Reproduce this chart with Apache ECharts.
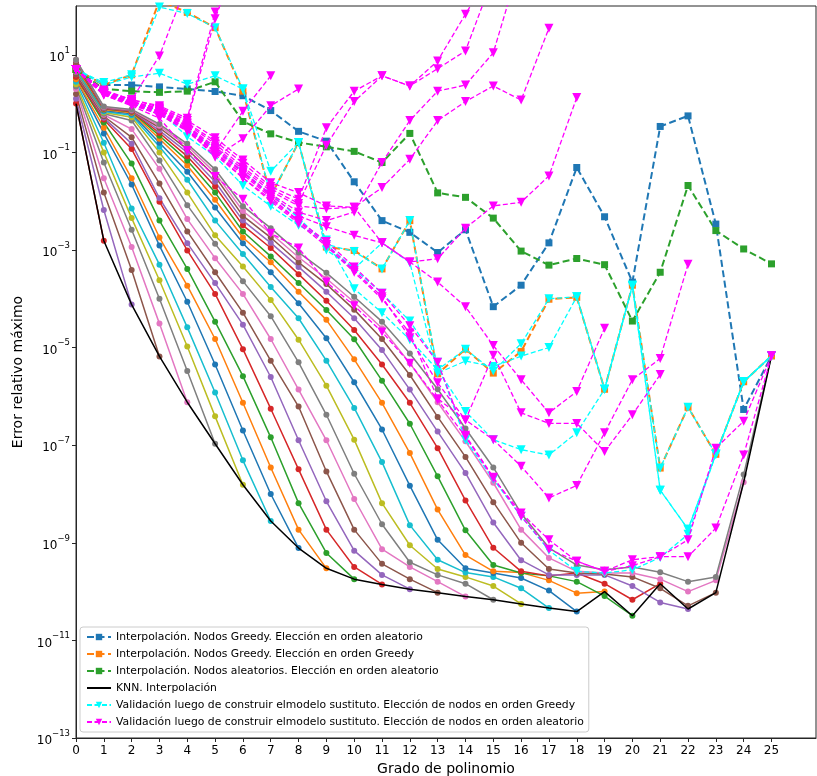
<!DOCTYPE html>
<html>
<head>
<meta charset="utf-8">
<script src="https://cdn.jsdelivr.net/npm/echarts@6/dist/echarts.min.js"></script>
<style>
  html, body { margin: 0; padding: 0; background: #fff; }
  #chart { width: 817px; height: 776px; }
</style>
</head>
<body>
<div id="chart"></div>
<script>
// Polynomial degree on the x axis
const degrees = [0, 1, 2, 3, 4, 5, 6, 7, 8, 9, 10, 11, 12, 13, 14, 15, 16, 17, 18, 19, 20, 21, 22, 23, 24, 25];

// Log-axis tick positions (every other decade is labelled)
const yTicks = [1e-13, 1e-11, 1e-9, 1e-7, 1e-5, 1e-3, 1e-1, 1e1];

// Interpolation runs
const interpGreedyRand = [5.0, 2.4, 2.4, 2.2, 2.0, 1.77, 1.45, 0.72, 0.27, 0.17, 0.025, 4.0e-3, 2.3e-3, 8.9e-4, 2.6e-3, 6.9e-5, 1.9e-4, 1.4e-3, 4.9e-2, 4.8e-3, 2.2e-4, 0.34, 0.56, 3.4e-3, 5.4e-7, 6.8e-6];
const interpGreedyGreedy = [5.0, 2.4, 3.9, 130, 74, 36, 1.8, 0.0126, 0.16, 1.15e-3, 9.8e-4, 4.1e-4, 4.0e-3, 2.9e-6, 9.3e-6, 3.0e-6, 8.3e-6, 9.8e-5, 1.07e-4, 1.4e-6, 1.9e-4, 3.4e-8, 6.0e-7, 6.5e-8, 2.0e-6, 6.8e-6];
const interpRandRand = [5.0, 2.0, 1.8, 1.7, 1.8, 2.8, 0.43, 0.24, 0.16, 0.13, 0.105, 0.062, 0.245, 0.0148, 0.012, 4.5e-3, 9.5e-4, 4.9e-4, 6.7e-4, 5.0e-4, 3.5e-5, 3.5e-4, 0.021, 2.5e-3, 1.05e-3, 5.2e-4];

// KNN interpolation envelope
const knnInterp = [1.0, 1.55e-3, 7.6e-5, 6.6e-6, 7.6e-7, 1.07e-7, 1.55e-8, 2.8e-9, 7.8e-10, 3.0e-10, 1.8e-10, 1.4e-10, 1.12e-10, 9.5e-11, 7.9e-11, 6.8e-11, 5.6e-11, 4.6e-11, 3.9e-11, 1.0e-10, 3.2e-11, 1.45e-10, 4.4e-11, 9.5e-11, 1.74e-8, 6.8e-6];

// KNN curves, one per neighbourhood size (curve n runs from degree 0 to n)
const knn1 = [1.0, 1.55e-3];
const knn2 = [1.26, 6.6e-3, 7.6e-5];
const knn3 = [1.58, 1.5e-2, 3.9e-4, 6.6e-6];
const knn4 = [2.0, 2.95e-2, 1.15e-3, 3.1e-5, 7.6e-7];
const knn5 = [2.24, 6.2e-2, 2.6e-3, 1.0e-4, 3.3e-6, 1.07e-7];
const knn6 = [2.5, 0.1, 4.5e-3, 2.4e-4, 1.05e-5, 3.9e-7, 1.55e-8];
const knn7 = [2.8, 0.158, 7.1e-3, 5.0e-4, 2.6e-5, 1.2e-6, 4.9e-8, 2.8e-9];
const knn8 = [3.16, 0.245, 2.2e-2, 1.23e-3, 8.7e-5, 4.5e-6, 2.0e-7, 1.0e-8, 7.8e-10];
const knn9 = [3.16, 0.32, 2.95e-2, 1.8e-3, 1.86e-4, 1.5e-5, 7.4e-7, 3.5e-8, 1.86e-9, 3.0e-10];
const knn10 = [3.55, 0.41, 5.9e-2, 4.0e-3, 4.1e-4, 3.4e-5, 2.6e-6, 1.45e-7, 6.5e-9, 6.2e-10, 1.8e-10];
const knn11 = [3.55, 0.47, 0.117, 9.8e-3, 9.8e-4, 1.26e-4, 9.3e-6, 5.6e-7, 3.2e-8, 1.86e-9, 3.2e-10, 1.4e-10];
const knn12 = [3.98, 0.51, 0.151, 1.15e-2, 1.38e-3, 2.1e-4, 2.95e-5, 2.5e-6, 1.26e-7, 7.1e-9, 6.9e-10, 2.2e-10, 1.12e-10];
const knn13 = [3.98, 0.55, 0.204, 2.3e-2, 2.4e-3, 3.5e-4, 5.2e-5, 5.4e-6, 6.2e-7, 2.9e-8, 1.86e-9, 3.7e-10, 1.8e-10, 9.5e-11];
const knn14 = [4.47, 0.59, 0.30, 4.6e-2, 4.3e-3, 6.8e-4, 1.26e-4, 1.5e-5, 1.38e-6, 1.26e-7, 7.9e-9, 7.4e-10, 3.2e-10, 1.6e-10, 7.9e-11];
const knn15 = [4.47, 0.62, 0.45, 6.8e-2, 8.3e-3, 1.35e-3, 2.3e-4, 4.4e-5, 5.0e-6, 4.2e-7, 2.6e-8, 2.4e-9, 4.0e-10, 2.2e-10, 1.45e-10, 6.8e-11];
const knn16 = [5.0, 0.66, 0.525, 0.1, 1.5e-2, 2.0e-3, 4.6e-4, 9.5e-5, 1.45e-5, 1.66e-6, 1.3e-7, 6.5e-9, 8.9e-10, 2.9e-10, 2.0e-10, 1.3e-10, 5.6e-11];
const knn17 = [5.0, 0.69, 0.575, 0.13, 2.75e-2, 4.0e-3, 8.3e-4, 1.74e-4, 4.0e-5, 5.4e-6, 5.8e-7, 4.5e-8, 2.3e-9, 4.5e-10, 2.45e-10, 2.0e-10, 1.17e-10, 4.6e-11];
const knn18 = [5.6, 0.72, 0.62, 0.158, 4.0e-2, 7.4e-3, 1.38e-3, 3.5e-4, 8.1e-5, 1.55e-5, 1.95e-6, 2.1e-7, 1.48e-8, 1.15e-9, 3.0e-10, 2.4e-10, 1.9e-10, 1.05e-10, 3.9e-11];
const knn19 = [5.6, 0.76, 0.65, 0.19, 5.4e-2, 1.07e-2, 1.8e-3, 5.6e-4, 1.4e-4, 3.7e-5, 5.75e-6, 7.4e-7, 6.9e-8, 4.8e-9, 5.6e-10, 2.6e-10, 2.45e-10, 1.7e-10, 9.3e-11, 1.0e-10];
const knn20 = [6.3, 0.78, 0.68, 0.22, 6.8e-2, 1.5e-2, 2.4e-3, 7.4e-4, 2.1e-4, 5.9e-5, 1.48e-5, 2.1e-6, 2.75e-7, 2.3e-8, 1.8e-9, 3.5e-10, 2.4e-10, 2.1e-10, 1.6e-10, 8.1e-11, 3.2e-11];
const knn21 = [6.3, 0.79, 0.69, 0.25, 8.3e-2, 2.0e-2, 3.2e-3, 1.1e-3, 3.2e-4, 9.1e-5, 2.3e-5, 4.5e-6, 7.4e-7, 8.7e-8, 7.4e-9, 7.9e-10, 2.6e-10, 2.1e-10, 2.4e-10, 1.45e-10, 6.8e-11, 1.45e-10];
const knn22 = [7.1, 0.81, 0.71, 0.28, 0.1, 2.5e-2, 4.0e-3, 1.4e-3, 4.5e-4, 1.4e-4, 4.0e-5, 8.9e-6, 1.38e-6, 1.9e-7, 2.7e-8, 2.6e-9, 4.4e-10, 2.2e-10, 2.2e-10, 2.2e-10, 1.3e-10, 6.0e-11, 4.4e-11];
const knn23 = [7.1, 0.83, 0.72, 0.32, 0.117, 3.2e-2, 5.0e-3, 1.8e-3, 5.6e-4, 2.0e-4, 6.0e-5, 1.5e-5, 2.75e-6, 3.8e-7, 5.75e-8, 6.8e-9, 1.0e-9, 2.9e-10, 2.4e-10, 2.3e-10, 2.0e-10, 1.17e-10, 5.1e-11, 9.5e-11];
const knn24 = [7.9, 0.85, 0.74, 0.35, 0.135, 3.8e-2, 6.3e-3, 2.2e-3, 7.1e-4, 2.6e-4, 8.5e-5, 2.5e-5, 4.8e-6, 7.6e-7, 1.2e-7, 1.7e-8, 1.86e-9, 4.9e-10, 2.6e-10, 2.4e-10, 2.4e-10, 1.8e-10, 1.0e-10, 1.7e-10, 1.74e-8];
const knn25 = [7.9, 0.87, 0.76, 0.38, 0.15, 4.5e-2, 7.9e-3, 2.8e-3, 8.9e-4, 3.4e-4, 1.1e-4, 3.4e-5, 7.6e-6, 1.4e-6, 2.2e-7, 3.5e-8, 4.0e-9, 7.9e-10, 3.5e-10, 2.8e-10, 3.2e-10, 2.5e-10, 1.6e-10, 2.0e-10, 2.5e-8, 6.8e-6];
const knnCurves = [knn1, knn2, knn3, knn4, knn5, knn6, knn7, knn8, knn9, knn10, knn11, knn12, knn13,
  knn14, knn15, knn16, knn17, knn18, knn19, knn20, knn21, knn22, knn23, knn24, knn25];

// Validation runs, nodes chosen in greedy order
const valGreedy1 = [5.0, 2.7, 3.9, 95, 70, 36, 2.0, 0.013, 0.16, 1.3e-3, 9.3e-4, 4.1e-4, 4.0e-3, 3.5e-6, 9.3e-6, 3.3e-6, 1.2e-5, 1.0e-4, 1.1e-4, 1.4e-6, 1.9e-4, 3.4e-8, 6.0e-7, 6.5e-8, 2.0e-6, 6.8e-6];
const valGreedy2 = [5.0, 2.4, 3.5, 4.2, 2.5, 3.7, 2.0, 0.041, 0.16, 1.0e-3, 4.1e-4, 1.4e-3, 5.5e-4, 3.0e-6, 5.3e-6, 4.1e-6, 6.7e-6, 1.0e-5, 1.1e-4, 1.4e-6, 1.8e-4, 1.2e-8, 1.9e-9, 6.5e-8, 2.0e-6, 6.8e-6];
const valGreedy3 = [5.0, 1.8, 1.1, 0.7, 0.21, 0.083, 0.021, 7.9e-3, 3.2e-3, 1.6e-3, 1.6e-4, 5.2e-5, 1.45e-5, 3.5e-6, 4.9e-7, 1.3e-7, 8.1e-8, 6.3e-8, 1.8e-7, 1.4e-6, 1.9e-4, 1.2e-8, 1.9e-9, 6.5e-8, 2.0e-6, 6.8e-6];
const valGreedy4 = [5.0, 1.6, 1.0, 0.6, 0.3, 0.12, 0.04, 0.014, 4.5e-3, 1.3e-3, 4.1e-4, 1.3e-4, 3.5e-5, 5.0e-6, 1.3e-7, 2.0e-8, 3.5e-9, 7.0e-10, 2.6e-10, 2.4e-10, 2.8e-10, 5.0e-10, 1.5e-9, 6.5e-8, 2.0e-6, 6.8e-6];
const valGreedyRuns = [valGreedy1, valGreedy2, valGreedy3, valGreedy4];

// Validation runs, nodes chosen in random order
const valRand1 = [5.0, 1.5, 0.9, 0.5, 0.11, 0.032, 0.011, 2.2e-3, 1.1e-3, 2.2e-4, 7.2e-5, 2.1e-5, 4.8e-6, 8.5e-7, 1.5e-7, 2.1e-8, 4.1e-9, 1.15e-9, 4.2e-10, 2.6e-10, 4.5e-10, 5.2e-10, 5.2e-10, 2.0e-9, 6.3e-8, 6.8e-6];
const valRand2 = [5.0, 1.6, 1.0, 0.65, 0.3, 0.1, 0.035, 0.012, 4.0e-3, 1.5e-3, 4.5e-4, 1.3e-4, 2.8e-5, 5.0e-6, 1.6e-7, 2.2e-8, 3.5e-9, 7.4e-10, 4.2e-10, 2.6e-10, 3.4e-10, 5.2e-10, 1.15e-9, 8.7e-8, 3.1e-7, 6.8e-6];
const valRand3 = [5.0, 1.8, 1.2, 0.85, 0.45, 0.2, 0.07, 0.024, 0.015, 8.0e-3, 7.5e-3, 1.4e-3, 5.7e-4, 6.6e-4, 2.8e-3, 8.0e-3, 9.5e-3, 0.033, 1.33];
const valRand4 = [5.0, 1.7, 1.1, 0.8, 0.4, 0.17, 0.06, 0.02, 0.011, 0.32, 1.8, 3.7, 2.3, 7.5, 68, 600];
const valRand5 = [5.0, 1.7, 1.1, 0.75, 0.38, 0.15, 0.05, 0.018, 0.009, 0.14, 1.1, 3.7, 2.3, 5.2, 12, 400];
const valRand6 = [5.0, 1.6, 1.05, 0.7, 0.35, 0.13, 0.045, 0.016, 8.0e-3, 7.0e-3, 7.5e-3, 0.019, 0.072, 0.45, 1.1, 2.3, 1.18, 35];
const valRand7 = [5.0, 1.6, 1.0, 0.7, 0.33, 0.12, 0.04, 0.014, 6.0e-3, 4.0e-3, 6.0e-3, 0.062, 0.45, 1.8, 2.4, 11, 900];
const valRand8 = [5.0, 1.8, 1.2, 0.9, 0.5, 75, 3000];
const valRand9 = [5.0, 1.7, 1.1, 0.8, 0.45, 55, 2000];
const valRand10 = [5.0, 1.9, 1.2, 9.5, 300];
const valRand11 = [5.0, 1.7, 1.1, 0.75, 0.35, 0.1, 0.7, 3.7];
const valRand12 = [5.0, 1.6, 1.0, 0.7, 0.3, 0.08, 0.19, 0.9, 2.0];
const valRand13 = [5.0, 1.6, 1.0, 0.65, 0.3, 0.11, 0.038, 0.013, 5.0e-3, 3.0e-3, 2.0e-3, 1.4e-3, 5.7e-4, 2.2e-4, 6.9e-5, 1.1e-5, 2.2e-6, 4.6e-7, 1.26e-6, 2.5e-5];
const valRand14 = [5.0, 1.5, 0.95, 0.6, 0.28, 0.1, 0.03, 0.01, 3.5e-3, 1.2e-3, 3.5e-4, 1.0e-4, 2.0e-5, 9.0e-7, 3.3e-7, 1.3e-7, 3.7e-8, 8.3e-9, 1.5e-8, 1.8e-7, 2.2e-6, 6.0e-6, 5.1e-4];
const valRand15 = [5.0, 1.55, 0.95, 0.6, 0.27, 0.09, 0.03, 0.011, 3.8e-3, 1.3e-3, 3.8e-4, 1.1e-4, 1.6e-5, 1.9e-6, 3.3e-7, 7.0e-6, 4.6e-7, 2.8e-7, 2.8e-7, 7.4e-8, 4.2e-7, 2.8e-6];
const valRandRuns = [valRand1, valRand2, valRand3, valRand4, valRand5, valRand6, valRand7, valRand8,
  valRand9, valRand10, valRand11, valRand12, valRand13, valRand14, valRand15];

// Legend labels
const names = {
  gRand: 'Interpolación. Nodos Greedy. Elección en orden aleatorio',
  gGreedy: 'Interpolación. Nodos Greedy. Elección en orden Greedy',
  rRand: 'Interpolación. Nodos aleatorios. Elección en orden aleatorio',
  knn: 'KNN. Interpolación',
  vGreedy: 'Validación luego de construir elmodelo sustituto. Elección de nodos en orden Greedy',
  vRand: 'Validación luego de construir elmodelo sustituto. Elección de nodos en orden aleatorio'
};

const tab10 = ['#1f77b4', '#ff7f0e', '#2ca02c', '#d62728', '#9467bd', '#8c564b', '#e377c2', '#7f7f7f', '#bcbd22', '#17becf'];
const FONT = 'DejaVu Sans';

function pairs(arr) {
  return arr.map((v, i) => [degrees[i], v]);
}

const series = [];

// KNN curves: solid lines with round markers, colours continue the default cycle
knnCurves.forEach((arr, k) => {
  const c = tab10[(k + 3) % 10];
  series.push({
    type: 'line', name: 'knn-' + (k + 1), data: pairs(arr),
    symbol: 'circle', symbolSize: 6, showSymbol: true,
    lineStyle: { color: c, width: 1.5 }, itemStyle: { color: c },
    z: 2, silent: true
  });
});

series.push({
  type: 'line', name: names.knn, data: pairs(knnInterp),
  symbol: 'none', lineStyle: { color: '#000', width: 1.5 }, itemStyle: { color: '#000' },
  z: 3, silent: true
});

function dashedSquares(name, arr, c) {
  return {
    type: 'line', name, data: pairs(arr),
    symbol: 'rect', symbolSize: 7, showSymbol: true,
    lineStyle: { color: c, width: 2, type: [7, 3.5] }, itemStyle: { color: c },
    z: 4, silent: true
  };
}
series.push(dashedSquares(names.gRand, interpGreedyRand, tab10[0]));
series.push(dashedSquares(names.gGreedy, interpGreedyGreedy, tab10[1]));
series.push(dashedSquares(names.rRand, interpRandRand, tab10[2]));

function dashedTriangles(name, arr, c, z) {
  return {
    type: 'line', name, data: pairs(arr),
    symbol: 'triangle', symbolRotate: 180, symbolSize: 9, showSymbol: true,
    lineStyle: { color: c, width: 1.3, type: [5, 2.5] }, itemStyle: { color: c },
    z, silent: true
  };
}
valGreedyRuns.forEach(arr => series.push(dashedTriangles(names.vGreedy, arr, '#00ffff', 5)));
valRandRuns.forEach(arr => series.push(dashedTriangles(names.vRand, arr, '#ff00ff', 6)));

const supLabel = v => {
  const e = Math.round(Math.log10(v));
  return '{b|10}{s|' + (e < 0 ? '\u2212' : '') + Math.abs(e) + '}';
};

const option = {
  animation: false,
  backgroundColor: '#fff',
  grid: {
    left: 76, right: 1, top: 6, bottom: 38,
    containLabel: false, outerBoundsMode: 'none',
    show: true, borderColor: '#262626', borderWidth: 1, backgroundColor: 'transparent'
  },
  xAxis: {
    type: 'value', min: 0, max: 26.6,
    name: 'Grado de polinomio', nameLocation: 'middle', nameGap: 23,
    nameTextStyle: { fontFamily: FONT, fontSize: 14, color: '#000' },
    axisLine: { show: true, onZero: false, lineStyle: { color: '#262626', width: 1 } },
    axisTick: { show: true, length: 4, lineStyle: { color: '#262626' }, customValues: degrees },
    axisLabel: { fontFamily: FONT, fontSize: 12, color: '#000', margin: 7, customValues: degrees },
    splitLine: { show: false }
  },
  yAxis: {
    type: 'log', logBase: 10, min: 1e-13, max: 1e2,
    name: 'Error relativo máximo', nameLocation: 'middle', nameGap: 51, nameRotate: 90,
    nameTextStyle: { fontFamily: FONT, fontSize: 14, color: '#000' },
    axisLine: { show: true, lineStyle: { color: '#262626', width: 1 } },
    axisTick: { show: true, length: 4, lineStyle: { color: '#262626' }, customValues: yTicks },
    axisLabel: {
      fontFamily: FONT, color: '#000', margin: 6, customValues: yTicks,
      formatter: supLabel,
      rich: {
        b: { fontFamily: FONT, fontSize: 12, color: '#000', lineHeight: 18, verticalAlign: 'bottom' },
        s: { fontFamily: FONT, fontSize: 8.5, color: '#000', lineHeight: 18, verticalAlign: 'top' }
      }
    },
    splitLine: { show: false }
  },
  legend: {
    data: [
      names.gRand, names.gGreedy, names.rRand,
      { name: names.knn, itemStyle: { opacity: 0 } },
      names.vGreedy, names.vRand
    ],
    orient: 'vertical', left: 80, top: 627,
    itemWidth: 24, itemHeight: 8, itemGap: 5,
    backgroundColor: 'rgba(255,255,255,0.85)', borderColor: '#cccccc', borderWidth: 1, borderRadius: 3,
    padding: [4, 5, 4, 6],
    textStyle: { fontFamily: FONT, fontSize: 10.8, color: '#000', lineHeight: 12 },
    selectedMode: false
  },
  series
};

const chart = echarts.init(document.getElementById('chart'), null, { renderer: 'canvas' });
chart.setOption(option);
</script>
</body>
</html>
